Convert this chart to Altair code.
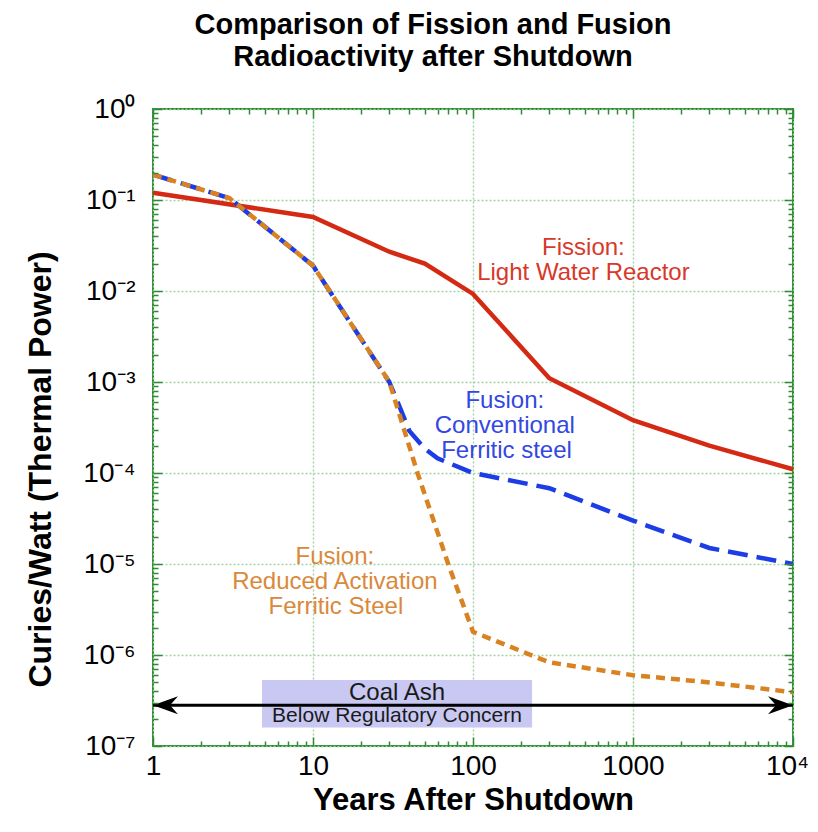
import json
import altair as alt
import pandas as pd

# ---------------- data ----------------
fission_years = [1, 10, 30, 50, 100, 300, 1000, 3000, 10000]
fission_vals = [0.12, 0.065, 0.027, 0.020, 0.0093, 0.0011, 0.00038, 0.0002, 0.00011]

conv_years = [1, 3, 10, 30, 35, 40, 50, 60, 100, 300, 1000, 3000, 10000]
conv_vals = [0.19, 0.105, 0.019, 1.0e-3, 5.2e-4, 2.9e-4, 1.85e-4, 1.45e-4, 1.0e-4,
             6.8e-5, 3.0e-5, 1.5e-5, 1.0e-5]

ra_years = [1, 3, 10, 30, 45, 70, 100, 300, 1000, 3000, 10000]
ra_vals = [0.19, 0.105, 0.019, 1.0e-3, 1.0e-4, 1.0e-5, 1.8e-6, 8.3e-7, 6.0e-7, 5.0e-7, 3.9e-7]

x_major = [1, 10, 100, 1000, 10000]
x_labels = ["1", "10", "100", "1000", "10⁴"]
y_major = [1e-7, 1e-6, 1e-5, 1e-4, 1e-3, 1e-2, 1e-1, 1.0]
y_labels = ["10⁻⁷", "10⁻⁶", "10⁻⁵", "10⁻⁴", "10⁻³", "10⁻²", "10⁻¹", "10⁰"]

x_all_ticks = [k * 10.0 ** n for n in range(0, 4) for k in range(1, 10)] + [10000.0]
y_all_ticks = [k * 10.0 ** n for n in range(-7, 0) for k in range(1, 10)] + [1.0]

# annotations (data coordinates)
fission_text = ["Fission:", "Light Water Reactor"]
fission_text_x = [490, 490]
fission_text_y = [0.0297, 0.0158]

conv_text = ["Fusion:", "Conventional", "Ferritic steel"]
conv_text_x = [158, 158, 162]
conv_text_y = [6.2e-4, 3.28e-4, 1.745e-4]

ra_text = ["Fusion:", "Reduced Activation", "Ferritic Steel"]
ra_text_x = [13.7, 13.7, 13.9]
ra_text_y = [1.19e-5, 6.3e-6, 3.37e-6]

coal_box_x = [4.8]
coal_box_x2 = [234]
coal_box_y = [5.3e-7]
coal_box_y2 = [1.6e-7]
coal_text = ["Coal Ash", "Below Regulatory Concern"]
coal_text_x = [33.5, 33.5]
coal_text_y = [3.85e-7, 2.12e-7]
coal_text_size = [24, 21]

arrow_x = [1]
arrow_x2 = [10000]
arrow_y = [2.8e-7]

# ---------------- styling ----------------
W, H = 640, 637
FONT = "Liberation Sans"
GREEN = "#2f8c35"
GRID = "#a3d3a5"
RED = "#d42a14"
BLUE = "#1c3ce6"
ORANGE = "#d98222"

xscale = alt.Scale(type="log", domain=[1, 10000], nice=False)
yscale = alt.Scale(type="log", domain=[1e-7, 1], nice=False)


def label_expr(values, labels):
    expr = "''"
    for v, l in reversed(list(zip(values, labels))):
        expr = f"datum.value == {json.dumps(v)} ? '{l}' : ({expr})"
    return expr


def tick_axis(orient, offset, values, majors):
    test = f"indexof({json.dumps(majors)}, datum.value) >= 0"
    return alt.Axis(
        orient=orient, offset=offset, values=values, labels=False, domain=False,
        grid=False, ticks=True, tickColor=GREEN, tickWidth=1.5,
        tickSize={"condition": {"test": test, "value": 9}, "value": 5},
        title=None, zindex=1,
    )


x_label_axis = alt.Axis(
    orient="bottom", values=x_major, labelExpr=label_expr(x_major, x_labels),
    labelFont=FONT, labelFontSize=28, labelColor="black", labelPadding=6,
    labelOffset={"condition": {"test": "datum.value == 10000", "value": -6}, "value": 0},
    labelFlush=False, labelOverlap=False, ticks=False, tickSize=0, domain=False,
    grid=True, gridColor=GRID, gridDash=[2, 2], gridWidth=1.4,
    title="Years After Shutdown", titleFont=FONT, titleFontSize=31,
    titleFontWeight="bold", titleColor="black", titlePadding=5,
)
y_label_axis = alt.Axis(
    orient="left", values=y_major, labelExpr=label_expr(y_major, y_labels),
    labelFont=FONT, labelFontSize=28, labelColor="black", labelPadding=18,
    labelFlush=False, labelOverlap=False, ticks=False, tickSize=0, domain=False,
    grid=True, gridColor=GRID, gridDash=[2, 2], gridWidth=1.4,
    title="Curies/Watt (Thermal Power)", titleFont=FONT, titleFontSize=32,
    titleFontWeight="bold", titleColor="black", titleX=-113, titleY=360,
    titleBaseline="middle",
)

# ---------------- layers ----------------
box_df = pd.DataFrame({"x": coal_box_x, "x2": coal_box_x2, "y": coal_box_y, "y2": coal_box_y2})
box = alt.Chart(box_df).mark_rect(color="#c8c8f2").encode(
    x=alt.X("x:Q", scale=xscale, axis=x_label_axis),
    x2="x2:Q",
    y=alt.Y("y:Q", scale=yscale, axis=y_label_axis),
    y2="y2:Q",
)

arrow_df = pd.DataFrame({"x": arrow_x, "x2": arrow_x2, "y": arrow_y})
arrow_line = alt.Chart(arrow_df).mark_rule(color="black", strokeWidth=3).encode(
    x=alt.X("x:Q", scale=xscale, axis=None),
    x2="x2:Q",
    y=alt.Y("y:Q", scale=yscale, axis=None),
)
LEFT_HEAD = "M0,0 L1,-0.36 L0.68,0 L1,0.36 Z"
RIGHT_HEAD = "M0,0 L-1,-0.36 L-0.68,0 L-1,0.36 Z"
head_l = alt.Chart(arrow_df).mark_point(
    shape=LEFT_HEAD, size=2500, filled=True, color="black", opacity=1, strokeWidth=0
).encode(x=alt.X("x:Q", scale=xscale, axis=None), y=alt.Y("y:Q", scale=yscale, axis=None))
head_r = alt.Chart(arrow_df).mark_point(
    shape=RIGHT_HEAD, size=2500, filled=True, color="black", opacity=1, strokeWidth=0
).encode(x=alt.X("x2:Q", scale=xscale, axis=None), y=alt.Y("y:Q", scale=yscale, axis=None))

coal_df = pd.DataFrame({"x": coal_text_x, "y": coal_text_y, "t": coal_text})
coal_layers = []
for i in range(len(coal_text)):
    coal_layers.append(
        alt.Chart(coal_df.iloc[[i]]).mark_text(
            font=FONT, fontSize=coal_text_size[i], color="#1a1a1a", align="center", baseline="middle"
        ).encode(
            x=alt.X("x:Q", scale=xscale, axis=None),
            y=alt.Y("y:Q", scale=yscale, axis=None),
            text="t:N",
        )
    )

fis = alt.Chart(pd.DataFrame({"year": fission_years, "v": fission_vals})).mark_line(
    color=RED, strokeWidth=4.5
).encode(
    x=alt.X("year:Q", scale=xscale, axis=None),
    y=alt.Y("v:Q", scale=yscale, axis=None),
)

conv = alt.Chart(pd.DataFrame({"year": conv_years, "v": conv_vals})).mark_line(
    color=BLUE, strokeWidth=4.5, strokeDash=[20, 9]
).encode(
    x=alt.X("year:Q", scale=xscale, axis=tick_axis("bottom", -H, x_all_ticks, x_major)),
    y=alt.Y("v:Q", scale=yscale, axis=tick_axis("right", -W, y_all_ticks, y_major)),
)

ra = alt.Chart(pd.DataFrame({"year": ra_years, "v": ra_vals})).mark_line(
    color=ORANGE, strokeWidth=4.5, strokeDash=[9, 6]
).encode(
    x=alt.X("year:Q", scale=xscale, axis=tick_axis("top", -H, x_all_ticks, x_major)),
    y=alt.Y("v:Q", scale=yscale, axis=tick_axis("left", -W, y_all_ticks, y_major)),
)


def text_layer(xs, ys, texts, color):
    df = pd.DataFrame({"x": xs, "y": ys, "t": texts})
    return alt.Chart(df).mark_text(
        font=FONT, fontSize=24, color=color, align="center", baseline="middle"
    ).encode(
        x=alt.X("x:Q", scale=xscale, axis=None),
        y=alt.Y("y:Q", scale=yscale, axis=None),
        text="t:N",
    )


fis_lbl = text_layer(fission_text_x, fission_text_y, fission_text, "#d8382a")
conv_lbl = text_layer(conv_text_x, conv_text_y, conv_text, "#3347e2")
ra_lbl = text_layer(ra_text_x, ra_text_y, ra_text, "#d9893a")

chart = alt.layer(
    box, *coal_layers, arrow_line, head_l, head_r, fis, conv, ra, fis_lbl, conv_lbl, ra_lbl
).resolve_axis(
    x="independent", y="independent"
).properties(
    width=W,
    height=H,
    autosize=alt.AutoSizeParams(type="none"),
    padding={"left": 145, "top": 101, "right": 17, "bottom": 72},
    title=alt.TitleParams(
        text=["Comparison of Fission and Fusion", "Radioactivity after Shutdown"],
        font=FONT, fontSize=29, fontWeight="bold", lineHeight=32, color="black",
        anchor="middle", frame="group", dx=-40, offset=23,
    ),
).configure_view(stroke=GREEN, strokeWidth=2)

chart.save("out.html", embed_options={"renderer": "svg", "actions": False})
